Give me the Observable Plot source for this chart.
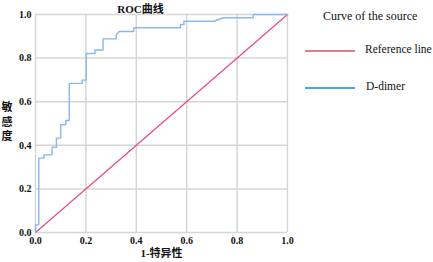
<!DOCTYPE html>
<html>
<head>
<meta charset="utf-8">
<script src="https://cdn.jsdelivr.net/npm/d3@7"></script>
<script src="https://cdn.jsdelivr.net/npm/@observablehq/plot@0.6"></script>
<style>
  body { margin: 0; background: #fff; }
  #wrap { position: relative; width: 433px; height: 262px; font-family: 'Liberation Serif', 'Noto Sans CJK SC', serif; }
  #legend { position: absolute; left: 0; top: 0; width: 433px; height: 262px; pointer-events: none; }
  .lg-title { position: absolute; left: 323px; top: 9px; font-size: 12px; color: #111; white-space: nowrap; }
  .lg-line { position: absolute; left: 305px; width: 50px; height: 0; border-top: 2px solid; }
  .lg-text { position: absolute; font-size: 11.5px; color: #111; white-space: nowrap; }
  .ylab { position: absolute; left: 0px; top: 100px; width: 14px; text-align: center; font-size: 11px; line-height: 14.5px; font-weight: bold; color: #111; }
</style>
</head>
<body>
<div id="wrap"><div id="legend"></div></div>
<script>
// ROC curve (D-dimer): corner points
const fpr = [0, 0, 0.013, 0.013, 0.033, 0.033, 0.066, 0.066, 0.083, 0.083, 0.1, 0.1, 0.12, 0.12, 0.134, 0.134, 0.185, 0.185, 0.201, 0.201, 0.236, 0.236, 0.268, 0.268, 0.32, 0.32, 0.332, 0.39, 0.39, 0.575, 0.575, 0.589, 0.589, 0.708, 0.747, 0.864, 0.864, 1];
const tpr = [0, 0.035, 0.035, 0.341, 0.341, 0.356, 0.356, 0.391, 0.391, 0.433, 0.433, 0.494, 0.494, 0.514, 0.514, 0.684, 0.684, 0.699, 0.699, 0.821, 0.821, 0.837, 0.837, 0.888, 0.888, 0.906, 0.922, 0.922, 0.939, 0.939, 0.954, 0.954, 0.969, 0.969, 0.985, 0.985, 1, 1];
// Reference (diagonal) line
const refX = [0, 1];
const refY = [0, 1];
const axisTicks = [0, 0.2, 0.4, 0.6, 0.8, 1.0];
const titleText = "ROC曲线";
const xLabel = "1-特异性";
const yLabelChars = ["敏", "感", "度"];
const legendTitle = "Curve of the source";
const seriesNames = ["Reference line", "D-dimer"];

const roc = fpr.map((x, i) => ({x, y: tpr[i]}));
const ref = refX.map((x, i) => ({x, y: refY[i]}));
const fmt = d3.format(".1f");
const gridStyle = {stroke: "#d6d6d6", strokeOpacity: 1, strokeWidth: 1.5};

const chart = Plot.plot({
  width: 433,
  height: 262,
  marginLeft: 35,
  marginRight: 146,
  marginTop: 14,
  marginBottom: 30,
  style: {fontFamily: "'Liberation Serif','Noto Sans CJK SC',serif", fontSize: "10px", background: "white", color: "#111"},
  x: {domain: [0, 1]},
  y: {domain: [0, 1]},
  marks: [
    Plot.gridX(axisTicks, gridStyle),
    Plot.gridY(axisTicks, gridStyle),
    Plot.axisX(axisTicks, {tickSize: 0, tickPadding: 4, tickFormat: fmt, label: null, fontWeight: "bold"}),
    Plot.axisY(axisTicks, {tickSize: 0, tickPadding: 4, tickFormat: fmt, label: null, fontWeight: "bold"}),
    Plot.line(ref, {x: "x", y: "y", stroke: "#e84d7a", strokeWidth: 1.2}),
    Plot.line(roc, {x: "x", y: "y", stroke: "#8bb6f0", strokeWidth: 1.4}),
    Plot.text([titleText], {frameAnchor: "top", dy: -9, dx: -21, fontSize: 11, fontWeight: "bold"}),
    Plot.text([xLabel], {frameAnchor: "bottom", dy: 24, fontSize: 11, fontWeight: "bold"})
  ]
});
document.getElementById("wrap").prepend(chart);

const legend = document.getElementById("legend");
const lgColors = ["#d6848a", "#45a6e0"];
const lgY = [51, 88];
const lgTextX = [365, 366];
legend.innerHTML = `<div class="lg-title">${legendTitle}</div>` +
  `<div class="ylab">${yLabelChars.join("<br>")}</div>` +
  seriesNames.map((n, i) =>
    `<div class="lg-line" style="top:${lgY[i] - 1}px;border-color:${lgColors[i]}"></div>` +
    `<div class="lg-text" style="left:${lgTextX[i]}px;top:${lgY[i] - 8}px">${n}</div>`
  ).join("");
</script>
</body>
</html>
